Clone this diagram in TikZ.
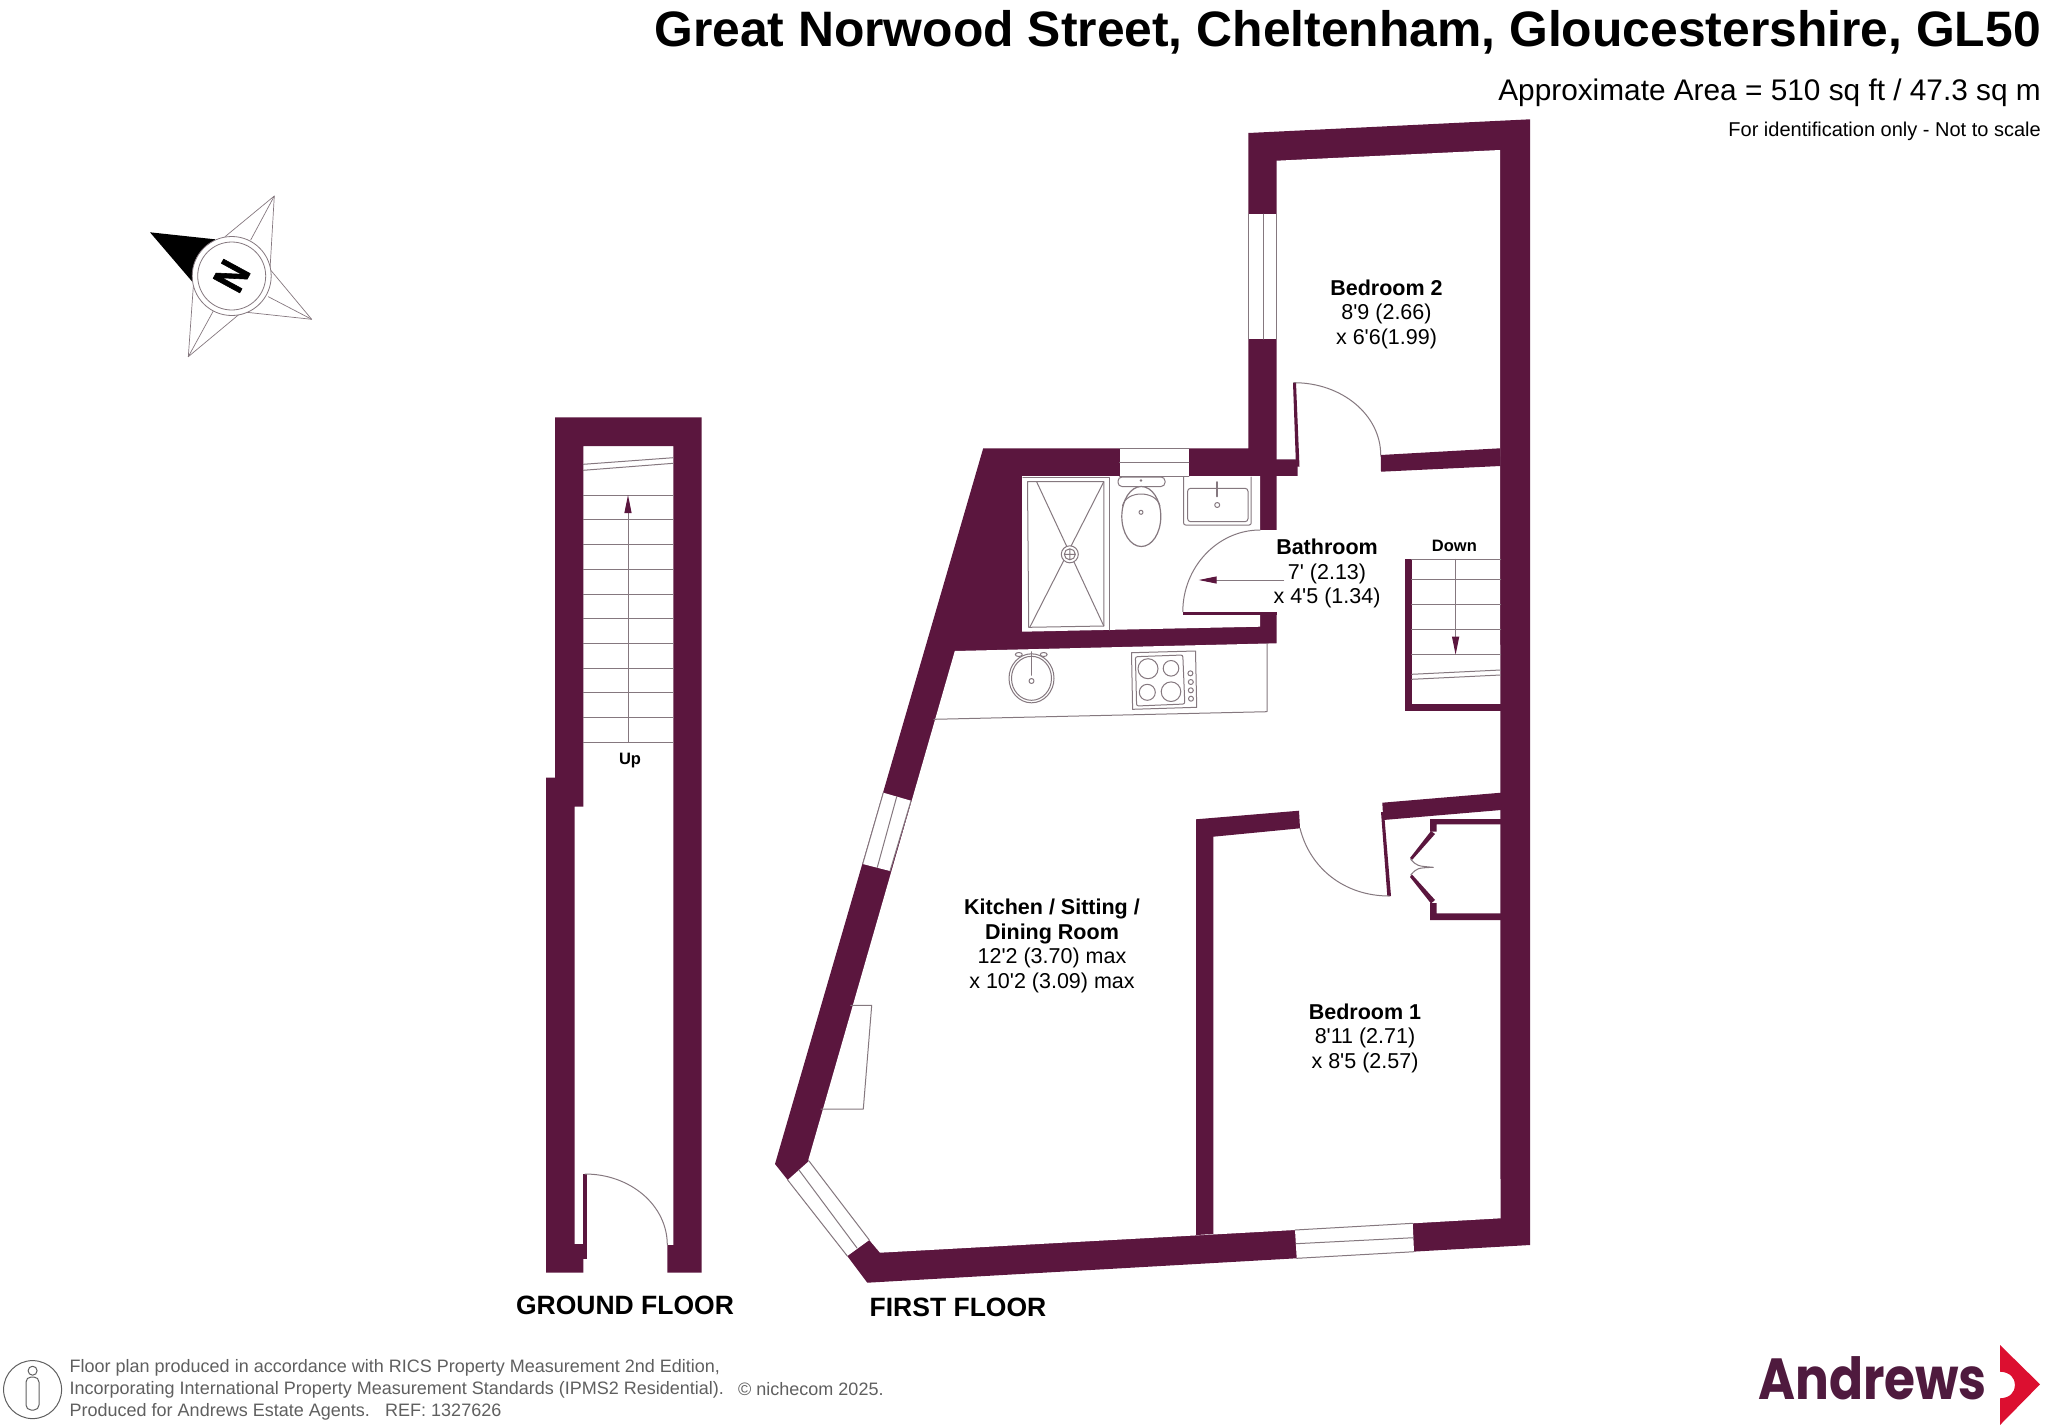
\documentclass[tikz,border=0pt]{standalone}
\usepackage{fontspec}
\setmainfont[Ligatures=TeXOff]{Liberation Sans}
\newfontfamily\logofont{Poppins}
\newfontfamily\northfont[FakeBold=1.5]{Liberation Sans Bold}
\usetikzlibrary{arrows.meta}
\definecolor{wallcol}{HTML}{5B163E}
\definecolor{logocol}{HTML}{4F1A3E}
\definecolor{redcol}{HTML}{DC0F30}
\definecolor{linecol}{HTML}{85787F}
\definecolor{notecol}{HTML}{5F5F5F}
\newcommand{\fs}[2]{\fontsize{#1}{#2}\selectfont}
\tikzset{
	wall/.style={fill=wallcol},
	fixture/.style={draw=linecol, line width=1pt},
	doorarc/.style={draw=linecol, line width=1pt},
	stairarrow/.style={draw=linecol, line width=1pt, -{Triangle[length=18pt,width=7pt,color=wallcol]}},
	glass/.style={fill=white},
	room/.style={align=center, inner sep=0pt, font=\fs{21.5}{24.5}},
	floorname/.style={inner sep=0pt, font=\fs{26.5}{30}\bfseries},
	stairname/.style={inner sep=0pt, font=\fs{16.5}{20}\bfseries},
}
\begin{document}
\begin{tikzpicture}[x=1pt, y=-1pt, line join=round, line cap=round]
	\useasboundingbox (0,0) rectangle (2048,1427);

	\node[anchor=east, inner sep=0pt, font=\fs{49.8}{55}\bfseries] (title) at (2041,32) {Great Norwood Street, Cheltenham, Gloucestershire, GL50};
	\node[anchor=east, inner sep=0pt, font=\fs{29.8}{33}] (area) at (2041,93) {Approximate Area = 510 sq ft / 47.3 sq m};
	\node[anchor=east, inner sep=0pt, font=\fs{20}{22}] (idnote) at (2041,131) {For identification only - Not to scale};

	\coordinate (cmp) at (231.7,276);
	\fill (150,232.3) -- (215,239.3) -- (192.3,281.7) -- cycle;
	\draw[fixture, line width=.7pt] (225,236.7) -- (274.3,196) -- (270,269.3) -- (311.7,319.3) -- (246.7,312.3) -- (238.3,315) -- (188.3,356.7) -- (193.3,286.7);
	\foreach \x/\y/\u/\v in {274.3/196/250.7/240, 311.7/319.3/268.3/296.7, 188.3/356.7/213.3/311}
		\draw[fixture, line width=.7pt] (\x,\y) -- (\u,\v);
	\draw[fixture, line width=.8pt, fill=white] (cmp) circle (39.5) (cmp) circle (34);
	\node[rotate=61.5, inner sep=0pt, font=\northfont\fs{44}{48}] (north) at (cmp) {\scalebox{.85}[1]{N}};

	\fill[wall] (555,417.3) -- (701.7,417.3) -- (701.7,1272.7) -- (667.3,1272.7) -- (667.3,1245) -- (673.3,1245) -- (673.3,446) -- (583.3,446) -- (583.3,806.7) -- (574.5,806.7) -- (574.5,1244) -- (583.3,1244) -- (583.3,1272.7) -- (546,1272.7) -- (546,777.7) -- (555,777.7) -- cycle;
	\fill[wall] (583.3,1174) rectangle (586.7,1258.5);
	\draw[doorarc] (585,1174) .. controls +(45,0) and +(0,-40) .. (667.3,1245);
	\foreach \y in {495,519.3,544.3,569.3,594,618.7,643.3,668,692.7,717.7,742.3}
		\draw[fixture] (583.3,\y) -- (673.3,\y);
	\draw[fixture] (583.3,464.3) -- (673.3,457.7) (583.3,470.3) -- (673.3,463.3);
	\coordinate (upfrom) at (628,742.3);
	\coordinate (upto) at (628,495);
	\draw[stairarrow] (upfrom) -- (upto);
	\node[stairname] (up) at (630,760.5) {Up};
	\node[floorname] (ground) at (625,1305.5) {GROUND FLOOR};

	\fill[wall] (1248.3,133) -- (1530,119.3) -- (1530,1245) -- (867.3,1282.7) -- (847.3,1256) -- (787.7,1180) -- (775,1164) -- (983.2,448.3) -- (1248.3,448.3) -- cycle;
	\fill[white] (1276.7,160.7) -- (1500,150) -- (1500.5,1218.3) -- (1412.7,1223.3) -- (1295,1230) -- (880,1252.7) -- (869.3,1240) -- (808.3,1160) -- (954.8,651) -- (1276.5,643.3) -- (1276.5,612.7) -- (1260,612.7) -- (1260,626.7) -- (1022,631.7) -- (1022,476) -- (1260,476) -- (1260,530) -- (1276.5,530) -- (1276.5,476) -- (1297.7,476) -- (1297.7,459.3) -- (1276.7,459.3) -- cycle;

	\fill[wall] (1380.7,455) -- (1500,448.3) -- (1500.5,466) -- (1381,471.7) -- cycle;
	\fill[wall] (1293,382.7) -- (1296,382.7) -- (1299.5,466.7) -- (1296,466.7) -- cycle;
	\fill[wall] (1182.8,611.7) rectangle (1276.5,614.7);
	\fill[wall] (1196,819.3) -- (1299,810.7) -- (1300,828.3) -- (1213.3,836.7) -- (1213.3,1234) -- (1196,1235) -- cycle;
	\fill[wall] (1382.3,802.7) -- (1501,792.7) -- (1501,810) -- (1383.3,820) -- cycle;
	\fill[wall] (1381,812) -- (1384,812) -- (1391,896) -- (1387.3,896) -- cycle;
	\fill[wall] (1430,819) -- (1501,819) -- (1501,824.3) -- (1436.7,824.3) -- (1436.7,831.7) -- (1430,831.7) -- cycle;
	\fill[wall] (1430,903) -- (1436.7,903) -- (1436.7,913.3) -- (1501,913.3) -- (1501,920) -- (1430,920) -- cycle;
	\fill[wall] (1431,831) -- (1435,834) -- (1412,860) -- (1410,858) -- cycle;
	\fill[wall] (1410,877) -- (1412,874.5) -- (1435,900) -- (1431,903.5) -- cycle;
	\fill[wall] (1405.4,559.3) rectangle (1411.7,710.7);
	\fill[wall] (1405.4,704) rectangle (1500.5,710.7);

	\fill[glass] (1248.3,214) rectangle (1276.7,339);
	\draw[fixture] (1248.3,214) -- (1248.3,339) (1263,214) -- (1263,339) (1276.7,214) -- (1276.7,339);
	\fill[glass] (1119.6,448.3) rectangle (1188.8,476);
	\draw[fixture] (1119.6,448.3) -- (1188.8,448.3) (1119.6,462.3) -- (1188.8,462.3) (1119.6,476) -- (1188.8,476);
	\fill[glass] (883.3,792.7) -- (911,800.7) -- (890,871) -- (862.7,864) -- cycle;
	\draw[fixture] (883.3,792.7) -- (862.7,864) (896.7,796.7) -- (877.3,867.3) (911,800.7) -- (890,871);
	\fill[glass] (787.7,1180) -- (809,1161) -- (869.3,1240) -- (847.3,1256) -- cycle;
	\draw[fixture] (787.7,1180) -- (847.3,1256) (799,1170) -- (857,1248) (809,1161) -- (869.3,1240);
	\fill[glass] (1295,1230) -- (1412.7,1223.3) -- (1414,1251.7) -- (1296.7,1258.3) -- cycle;
	\draw[fixture] (1295,1230) -- (1412.7,1223.3) (1296,1243.7) -- (1413.5,1237.7) (1296.7,1258.3) -- (1414,1251.7);

	\draw[doorarc] (1294,382.7) .. controls +(48,0) and +(0,-40) .. (1380.7,455);
	\draw[doorarc] (1260,530) .. controls +(-42,0) and +(0,-45) .. (1182.8,611.7);
	\draw[doorarc] (1300,828.3) .. controls +(10,40) and +(-45,0) .. (1389.3,896);
	\draw[doorarc] (1410.7,859.3) .. controls (1417,866) .. (1433.3,867.3) .. controls (1417,868) .. (1410.7,875);
	\draw[fixture] (850.7,1005.3) -- (871.7,1005.3) -- (863.3,1109) -- (821,1109);
	\draw[fixture] (933.8,719.3) -- (1267,711.7) -- (1267,643.5);

	\foreach \y in {559.3,579.3,604.3,629.3,654.7}
		\draw[fixture] (1411.7,\y) -- (1500.5,\y);
	\draw[fixture] (1411.7,674.3) -- (1500.5,670) (1411.7,679.3) -- (1500.5,675);
	\coordinate (downfrom) at (1455.6,559.3);
	\coordinate (downto) at (1455.6,654.7);
	\draw[stairarrow] (downfrom) -- (downto);
	\node[stairname] (down) at (1454.4,545.5) {Down};
	\coordinate (bathfrom) at (1283.6,580);
	\coordinate (bathto) at (1198.7,580);
	\draw[stairarrow] (bathfrom) -- (bathto);

	\draw[fixture] (1022.8,477) -- (1109,477) -- (1109,630);
	\draw[fixture] (1027.5,481.7) -- (1103.8,481.7) -- (1103.8,626) -- (1028.7,627.3) -- cycle;
	\draw[fixture] (1036.6,481.7) -- (1103.8,626) (1103.8,481.7) -- (1029.9,627);
	\draw[fixture, fill=white] (1069.8,554.3) circle (8.5);
	\draw[fixture] (1069.8,554.3) circle (5.5) (1064.3,554.3) -- (1075.3,554.3) (1069.8,548.8) -- (1069.8,559.8);

	\draw[fixture, rounded corners=4] (1118,477) rectangle (1165,486.5);
	\fill[linecol] (1141,480.5) circle (1.3);
	\draw[fixture, line width=1.2pt, fill=white] (1141.3,516.5) ellipse [x radius=19.5, y radius=30];
	\draw[fixture] (1141,512.3) circle (2);
	\draw[fixture] (1122.5,506) .. controls (1126,490) and (1156,490) .. (1160,506);

	\draw[fixture, rounded corners=2] (1183.6,477) -- (1183.6,525) -- (1251.2,525) -- (1251.2,477);
	\draw[fixture, rounded corners=3] (1187.6,488.3) rectangle (1248,521.7);
	\draw[fixture, line width=1.8pt] (1217.2,482) -- (1217.2,496.5);
	\draw[fixture] (1217.2,505) circle (2.5);

	\draw[fixture] (1031.5,678.3) ellipse [x radius=22.5, y radius=24.5];
	\draw[fixture] (1031.5,678.3) ellipse [x radius=20, y radius=22];
	\draw[fixture, line width=1.8pt] (1031.5,652) -- (1031.5,675);
	\draw[fixture] (1031.5,681) circle (2.5);
	\foreach \x in {1018.8,1043.7} \draw[fixture] (\x,654.5) ellipse [x radius=3.5, y radius=2];

	\draw[fixture] (1131.5,652.7) -- (1195.5,651) -- (1196.7,707.3) -- (1132.6,709.3) -- cycle;
	\draw[fixture, rounded corners=2] (1135.4,656.7) -- (1182.8,655) -- (1184.8,704) -- (1136.6,706) -- cycle;
	\foreach \x/\y/\r in {1148/668.7/10, 1171/668.3/7.8, 1147.3/692.3/8, 1171/691.7/9.8}
		\draw[fixture] (\x,\y) circle (\r);
	\foreach \x/\y in {1190.4/673.3, 1190.8/682, 1190.8/690.3, 1191/698.7}
		\draw[fixture] (\x,\y) circle (2.5);

	\node[room] (bed2) at (1386.5,314) {\textbf{Bedroom 2}\\8'9 (2.66)\\x 6'6(1.99)};
	\node[room] (bath) at (1327,573.5) {\textbf{Bathroom}\\7' (2.13)\\x 4'5 (1.34)};
	\node[room] (kitchen) at (1052,946) {\textbf{Kitchen / Sitting /}\\\textbf{Dining Room}\\12'2 (3.70) max\\x 10'2 (3.09) max};
	\node[room] (bed1) at (1365,1038) {\textbf{Bedroom 1}\\8'11 (2.71)\\x 8'5 (2.57)};
	\node[floorname] (first) at (958,1307.5) {FIRST FLOOR};

	\draw[draw=notecol, line width=1pt] (32.6,1389.6) circle (29);
	\draw[draw=notecol, line width=1pt] (32.6,1370.7) circle (4.5);
	\draw[draw=notecol, line width=1pt, rounded corners=5] (26,1377) rectangle (39,1410);
	\node[anchor=west, align=left, inner sep=0pt, text=notecol, font=\fs{18}{22}] (note) at (69.5,1389.5) {Floor plan produced in accordance with RICS Property Measurement 2nd Edition,\\Incorporating International Property Measurement Standards (IPMS2 Residential).\\Produced for Andrews Estate Agents.\hspace{15.4pt}REF: 1327626};
	\node[anchor=west, inner sep=0pt, text=notecol, font=\fs{18}{22}] (niche) at (738,1389.5) {© nichecom 2025.};

	\node[anchor=base west, inner sep=0pt, text=logocol, font=\logofont\fs{58}{60}\bfseries] (logo) at (1758,1399.3) {\scalebox{.865}[1]{Andrews}};
	\fill[redcol] (2000,1345) -- (2040,1384.3) -- (2000,1425) -- (2000,1398.3) .. controls (2010,1398) and (2015,1392) .. (2015,1385) .. controls (2015,1378) and (2010,1372) .. (2000,1371.7) -- cycle;
\end{tikzpicture}
\end{document}
